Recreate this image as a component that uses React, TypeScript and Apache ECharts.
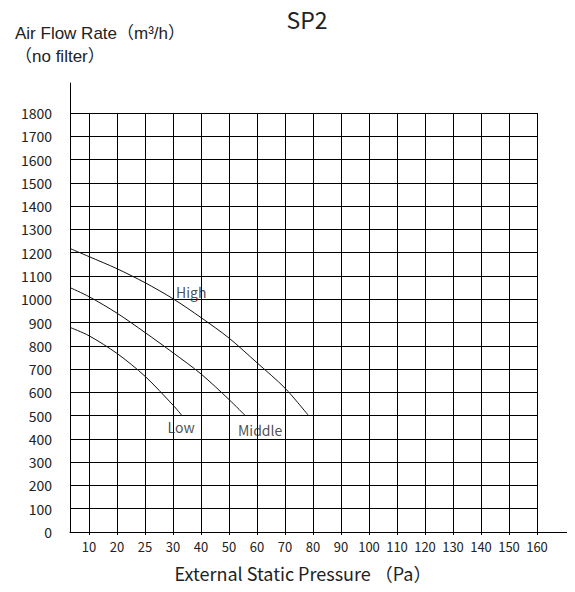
import React, { useEffect, useRef } from "react";
import * as echarts from "echarts";

// Tick labels of the (unevenly labelled) pressure axis, one per vertical grid line
const xLabels = ["10", "20", "25", "30", "40", "50", "60", "70", "80", "90", "100", "110", "120", "130", "140", "150", "160"];
// Air flow axis
const yMin = 0;
const yMax = 1800;
const yStep = 100;
// Position of the y axis on the label-index scale (the axis sits left of the "10" line)
const xOrigin = -0.68;

// Curves: [position on label-index scale, air flow m³/h]
const highCurve = [[-0.68, 1218], [0, 1183], [1, 1131], [2, 1071], [3, 1002], [4, 921], [5, 833], [6, 727], [7, 618], [7.84, 500]];
const middleCurve = [[-0.68, 1050], [0, 1011], [1, 940], [2, 857], [3, 770], [4, 679], [5, 569], [5.58, 500]];
const lowCurve = [[-0.68, 879], [0, 843], [1, 767], [2, 669], [3, 545], [3.32, 500]];

const seriesNames = ["High", "Middle", "Low"];
// Where each curve's name is written: [label-index position, air flow]
const nameAnchors = [[3.65, 1031], [6.11, 437], [3.29, 452]];

const titleText = "SP2";
const yName = "Air Flow Rate（m³/h）\n（no filter）";
const xName = "External Static Pressure （Pa）";

const CJK = "'Noto Sans CJK SC', 'Noto Sans', sans-serif";

export default function App() {
  const ref = useRef<HTMLDivElement>(null);
  useEffect(() => {
    if (!ref.current) return;
    const chart = echarts.init(ref.current, undefined, { renderer: "svg" });
    const curves = [highCurve, middleCurve, lowCurve];
    const black = "#000";
    const hidden = { show: false };
    chart.setOption({
      animation: false,
      backgroundColor: "#fff",
      color: ["#111", "#111", "#111", "#222"],
      title: [
        {
          text: titleText,
          left: 302,
          top: 2,
          textAlign: "center",
          textStyle: { fontSize: 23, fontWeight: "normal", color: "#222", fontFamily: CJK },
        },
        {
          text: yName,
          left: 15,
          top: 22,
          padding: 0,
          textStyle: {
            fontSize: 17,
            lineHeight: 23,
            fontWeight: "normal",
            color: "#222",
            fontFamily: "'Liberation Sans', 'Noto Sans CJK SC', sans-serif",
          },
        },
        {
          text: xName,
          left: 303,
          top: 564,
          padding: 0,
          textAlign: "center",
          textStyle: { fontSize: 18, fontWeight: "normal", color: "#222", fontFamily: CJK },
        },
      ],
      grid: [
        { left: 70, right: 0, top: 83, bottom: 60 },
        { left: 70, right: 38, top: 113, bottom: 60 },
        { left: 89, right: 38, top: 113, bottom: 60 },
      ],
      xAxis: [
        {
          gridIndex: 0,
          type: "value",
          min: 0,
          max: 1,
          axisLine: { show: true, lineStyle: { color: black, width: 1 } },
          axisTick: hidden,
          axisLabel: hidden,
          splitLine: hidden,
        },
        {
          gridIndex: 1,
          type: "value",
          min: xOrigin,
          max: xLabels.length - 1,
          axisLine: hidden,
          axisTick: hidden,
          axisLabel: hidden,
          splitLine: hidden,
        },
        {
          gridIndex: 2,
          type: "value",
          min: 0,
          max: xLabels.length - 1,
          interval: 1,
          axisLine: hidden,
          axisTick: { show: true, length: 3, lineStyle: { color: black } },
          axisLabel: {
            show: true,
            margin: 8,
            fontSize: 13,
            color: "#222",
            fontFamily: CJK,
            formatter: (v: number) => xLabels[Math.round(v)] ?? "",
          },
          splitLine: { show: true, lineStyle: { color: black, width: 1 } },
        },
      ],
      yAxis: [
        {
          gridIndex: 0,
          type: "value",
          min: 0,
          max: 1,
          axisLine: { show: true, lineStyle: { color: black, width: 1 } },
          axisTick: hidden,
          axisLabel: hidden,
          splitLine: hidden,
        },
        {
          gridIndex: 1,
          type: "value",
          min: yMin,
          max: yMax,
          interval: yStep,
          axisLine: hidden,
          axisTick: { show: true, length: 12, lineStyle: { color: black } },
          axisLabel: {
            show: true,
            margin: 18,
            fontSize: 14,
            color: "#222",
            fontFamily: CJK,
            formatter: (v: number) => String(v),
          },
          splitLine: { show: true, lineStyle: { color: black, width: 1 } },
        },
        {
          gridIndex: 2,
          type: "value",
          min: yMin,
          max: yMax,
          show: false,
          splitLine: hidden,
        },
      ],
      series: [
        ...curves.map((data, i) => ({
          name: seriesNames[i],
          type: "line",
          xAxisIndex: 1,
          yAxisIndex: 1,
          data,
          showSymbol: false,
          smooth: 0.3,
          itemStyle: { color: "#111" },
          lineStyle: { color: "#111", width: 1 },
          z: 5,
        })),
        {
          name: "curve names",
          type: "scatter",
          xAxisIndex: 1,
          yAxisIndex: 1,
          symbolSize: 0,
          itemStyle: { color: "#222" },
          data: nameAnchors.map((c, i) => ({ value: c, name: seriesNames[i] })),
          label: {
            show: true,
            position: [0, 0],
            align: "center",
            verticalAlign: "middle",
            formatter: (p: any) => p.name,
            fontSize: 14,
            color: "#222",
            fontFamily: CJK,
          },
          z: 6,
        },
      ],
    });
    return () => chart.dispose();
  }, []);
  return <div ref={ref} style={{ width: 575, height: 592, margin: -8 }} />;
}
